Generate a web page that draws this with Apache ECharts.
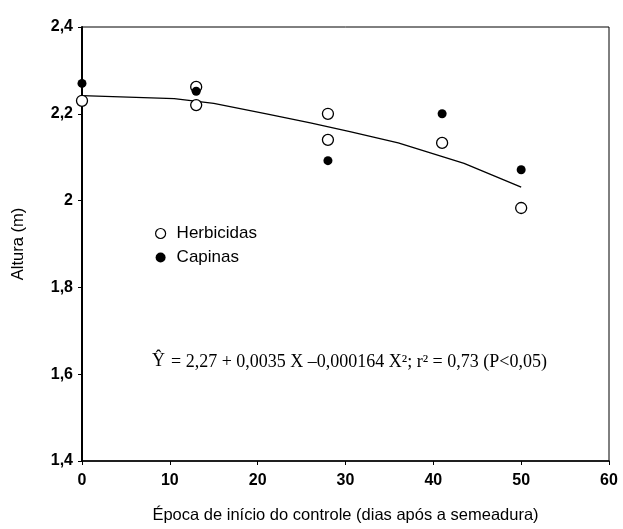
<!DOCTYPE html>
<html>
<head>
<meta charset="utf-8">
<script src="https://cdn.jsdelivr.net/npm/echarts@6/dist/echarts.min.js"></script>
<style>html,body{margin:0;padding:0;background:#fff}#c{width:623px;height:529px}</style>
</head>
<body>
<div id="c"></div>
<script>
var xTicks = [0, 10, 20, 30, 40, 50, 60];
var yTicks = [1.4, 1.6, 1.8, 2.0, 2.2, 2.4];
var herbicidas = [[0, 2.23], [13, 2.262], [13, 2.22], [28, 2.20], [28, 2.14], [41, 2.133], [50, 1.983]];
var capinas = [[0, 2.27], [13, 2.252], [28, 2.092], [41, 2.20], [50, 2.071]];
var curve = [[0, 2.242], [10.5, 2.235], [15, 2.224], [21, 2.20], [26, 2.179], [30.5, 2.159], [36, 2.133], [43.5, 2.086], [50, 2.031]];
var eqLeft = 'Ŷ';
var eqRight = '= 2,27 + 0,0035 X \u20130,000164 X²; r² = 0,73 (P<0,05)';

var chart = echarts.init(document.getElementById('c'));
function fmt(v){ return String(Math.round(v*10)/10).replace('.', ','); }
chart.setOption({
  animation: false,
  backgroundColor: '#fff',
  grid: {left: 82, right: 14, top: 27, bottom: 62, show: true, borderColor: '#000', borderWidth: 1},
  xAxis: {
    type: 'value', min: 0, max: 60, interval: 10,
    name: 'Época de início do controle (dias após a semeadura)',
    nameLocation: 'middle', nameGap: 46,
    nameTextStyle: {fontFamily: 'Arial, Liberation Sans', fontSize: 16.5, color: '#000'},
    axisLine: {lineStyle: {color: '#000', width: 1.5}},
    axisTick: {show: true, length: 4, lineStyle: {color: '#000'}},
    axisLabel: {fontFamily: 'Arial, Liberation Sans', fontWeight: 'bold', fontSize: 16, color: '#000', margin: 12},
    splitLine: {show: false}
  },
  yAxis: {
    type: 'value', min: 1.4, max: 2.4, interval: 0.2,
    name: 'Altura (m)', nameLocation: 'middle', nameGap: 55,
    nameTextStyle: {fontFamily: 'Arial, Liberation Sans', fontSize: 16.5, color: '#000'},
    axisLine: {show: true, lineStyle: {color: '#000', width: 2}},
    axisTick: {show: true, length: 4, lineStyle: {color: '#000'}},
    axisLabel: {fontFamily: 'Arial, Liberation Sans', fontWeight: 'bold', fontSize: 16, color: '#000', margin: 9, formatter: fmt},
    splitLine: {show: false}
  },
  legend: {
    orient: 'vertical', left: 150, top: 220, itemGap: 7, itemWidth: 10, itemHeight: 10,
    textStyle: {fontFamily: 'Arial, Liberation Sans', fontSize: 17, color: '#000', padding: [0,0,0,6]},
    data: [
      {name: 'Herbicidas', icon: 'circle', itemStyle: {color: '#fff', borderColor: '#000', borderWidth: 1.2}},
      {name: 'Capinas', icon: 'circle', itemStyle: {color: '#000', borderColor: '#000', borderWidth: 0}}
    ]
  },
  graphic: [
    {type: 'text', left: 152, top: 352,
     style: {text: eqLeft, fontFamily: 'Times New Roman, Liberation Serif', fontSize: 18, fill: '#000'}},
    {type: 'text', left: 171, top: 353,
     style: {text: eqRight, fontFamily: 'Times New Roman, Liberation Serif', fontSize: 18, fill: '#000'}}
  ],
  series: [
    {name: 'curve', type: 'line', data: curve, showSymbol: false, symbol: 'none', smooth: false,
     lineStyle: {color: '#000', width: 1.3}, z: 1},
    {name: 'Herbicidas', type: 'scatter', data: herbicidas, symbol: 'circle', symbolSize: 11,
     itemStyle: {color: '#fff', borderColor: '#000', borderWidth: 1.3, opacity: 1}, z: 3},
    {name: 'Capinas', type: 'scatter', data: capinas, symbol: 'circle', symbolSize: 9,
     itemStyle: {color: '#000', opacity: 1}, z: 4}
  ]
});
</script>
</body>
</html>
